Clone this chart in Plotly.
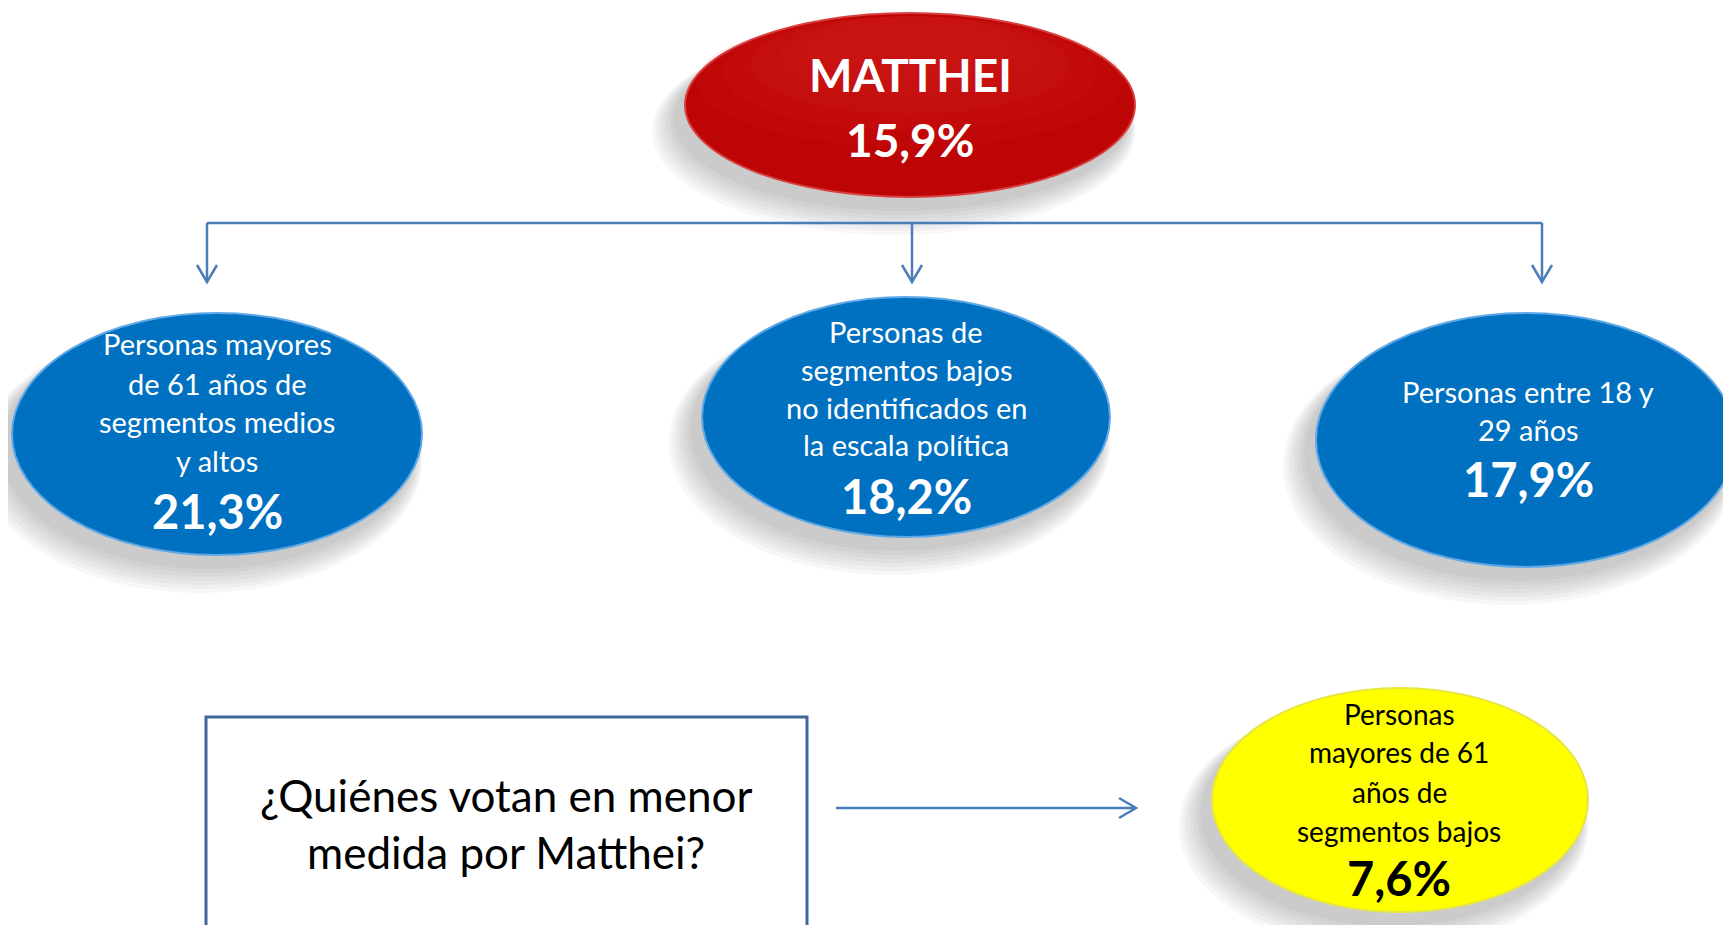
import plotly.graph_objects as go

# ---------------- data ----------------
candidate = "MATTHEI"
candidate_share = 15.9

group_lines = [
    ["Personas mayores", "de 61 años de", "segmentos medios", "y altos"],
    ["Personas de", "segmentos bajos", "no identificados en", "la escala política"],
    ["Personas entre 18 y", "29 años"],
]
group_shares = [21.3, 18.2, 17.9]

question_lines = ["¿Quiénes votan en menor", "medida por Matthei?"]
low_lines = ["Personas", "mayores de 61", "años de", "segmentos bajos"]
low_share = 7.6

# ---------------- layout helpers ----------------
W, H = 1731, 925
OFF = 8  # page body margin compensation
FONT = "Lato"
LINE_BLUE = "#4A7EBB"


def pct(v):
    return f"{v:.1f}".replace(".", ",") + "%"


shapes = []
annotations = []


def ellipse(cx, cy, rx, ry, fill, rim, shadow=True, highlight=None):
    if shadow:
        for i in range(7):
            g = 4 + i * 4
            shapes.append(dict(type="circle", xref="x", yref="y",
                               x0=cx - rx - g * 0.9 - 8, x1=cx + rx + g * 0.3 - 8,
                               y0=cy - ry + 14, y1=cy + ry + 10 + g,
                               fillcolor="rgba(60,60,60,0.045)", line=dict(width=0),
                               layer="below"))
    shapes.append(dict(type="circle", xref="x", yref="y",
                       x0=cx - rx, x1=cx + rx, y0=cy - ry, y1=cy + ry,
                       fillcolor=fill, line=dict(color=rim, width=2)))
    if highlight:
        for k in range(5):
            f = 0.95 - k * 0.12
            top = cy - ry + 3
            shapes.append(dict(type="circle", xref="x", yref="y",
                               x0=cx - rx * f, x1=cx + rx * f,
                               y0=top, y1=top + 2 * ry * f * 0.75,
                               fillcolor=highlight, line=dict(width=0)))


def text(x, y, s, size, color, bold=False):
    annotations.append(dict(x=x, y=y, xref="x", yref="y", text=f"<b>{s}</b>" if bold else s,
                            showarrow=False, xanchor="center", yanchor="middle",
                            font=dict(family=FONT, size=size, color=color)))


def arrow_down(x, y_tip):
    shapes.append(dict(type="path", xref="x", yref="y",
                       path=f"M {x-10},{y_tip-17} L {x},{y_tip} L {x+10},{y_tip-17}",
                       line=dict(color=LINE_BLUE, width=2.5)))


# ---------------- top node ----------------
ellipse(910, 105, 225, 92, "#BE0505", "#D84040", highlight="rgba(235,50,50,0.08)")
text(910, 74, candidate, 46, "white", bold=True)
text(910, 139, pct(candidate_share), 46, "white", bold=True)

# ---------------- connectors ----------------
branch_x = [207, 912, 1542]
shapes.append(dict(type="line", xref="x", yref="y", x0=branch_x[0], x1=branch_x[-1],
                   y0=223, y1=223, line=dict(color=LINE_BLUE, width=2.5)))
for bx in branch_x:
    shapes.append(dict(type="line", xref="x", yref="y", x0=bx, x1=bx, y0=223, y1=281,
                       line=dict(color=LINE_BLUE, width=2.5)))
    arrow_down(bx, 282)

# ---------------- group nodes ----------------
centers = [(217, 434, 205, 121), (906, 417, 204, 120), (1526, 440, 210, 127)]
line_ys = [[343, 383, 421, 460], [331, 369, 407, 444], [391, 429]]
pct_ys = [511, 496, 479]
text_x = [217, 906, 1528]
for (cx, cy, rx, ry), lines, ys, py, tx, v in zip(centers, group_lines, line_ys, pct_ys, text_x, group_shares):
    ellipse(cx, cy, rx, ry, "#0071C1", "#5FA8E6")
    for s, y in zip(lines, ys):
        text(tx, y, s, 29, "white")
    text(tx, py, pct(v), 47, "white", bold=True)

# ---------------- question box ----------------
shapes.append(dict(type="rect", xref="x", yref="y", x0=206, x1=807, y0=717, y1=945,
                   line=dict(color="#41679A", width=3), fillcolor="white"))
text(506, 795, question_lines[0], 44, "black")
text(506, 852, question_lines[1], 44, "black")

shapes.append(dict(type="line", xref="x", yref="y", x0=836, x1=1135, y0=808, y1=808,
                   line=dict(color=LINE_BLUE, width=2.5)))
shapes.append(dict(type="path", xref="x", yref="y",
                   path="M 1119,798 L 1136,808 L 1119,818",
                   line=dict(color=LINE_BLUE, width=2.5)))

# ---------------- low node ----------------
ellipse(1400, 800, 188, 112, "#FFFF00", "#E6E640")
for s, y in zip(low_lines, [714, 752, 792, 831]):
    text(1399, y, s, 28, "black")
text(1399, 878, pct(low_share), 47, "black", bold=True)

fig = go.Figure()
fig.update_layout(
    width=W, height=H,
    margin=dict(l=0, r=0, t=0, b=0),
    paper_bgcolor="white", plot_bgcolor="white",
    xaxis=dict(range=[OFF, W + OFF], visible=False, fixedrange=True),
    yaxis=dict(range=[H + OFF, OFF], visible=False, fixedrange=True),
    shapes=shapes, annotations=annotations, showlegend=False,
)
fig.write_html("out.html")
